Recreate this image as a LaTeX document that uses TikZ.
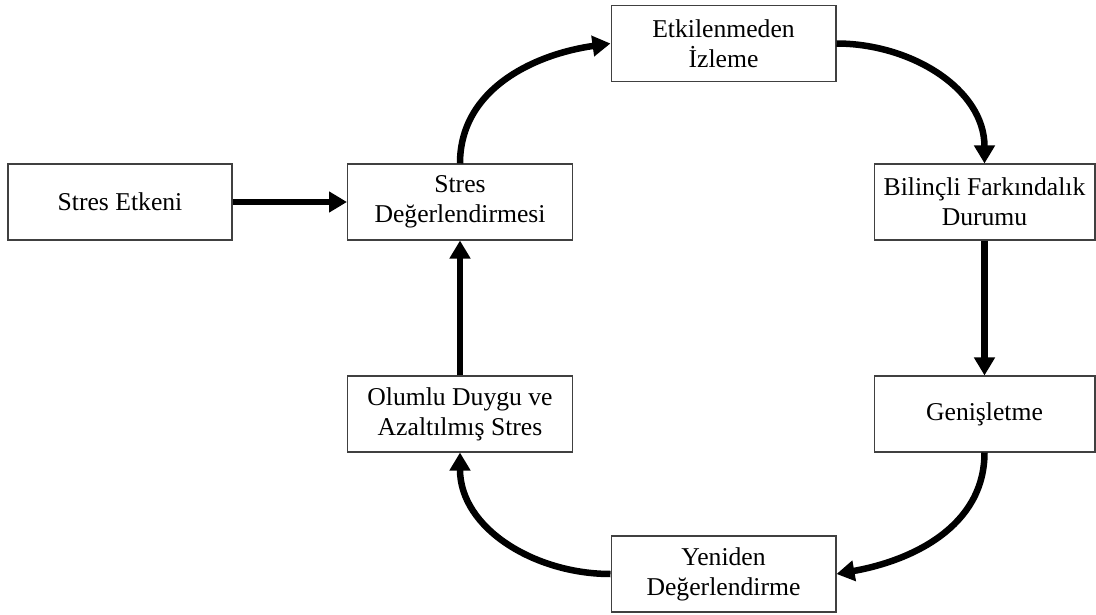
\documentclass[tikz,border=0pt]{standalone}
\usepackage{fontspec}
\setmainfont{Liberation Serif}
\usetikzlibrary{arrows.meta}
\begin{document}
\begin{tikzpicture}[x=0.02cm,y=-0.02cm,
  box/.style={draw=black!75, line width=0.6pt, minimum width=4.5cm, minimum height=1.52cm,
    align=center, inner sep=0pt, font=\fontsize{14.6}{17.2}\selectfont},
  conn/.style={line width=3.7pt, -{Triangle[length=0.36cm,width=0.4cm]}}]
\useasboundingbox (0,0) rectangle (1096,615);
\node[box, minimum width=4.48cm] (se) at (120,202) {Stres Etkeni};
\node[box] (sd) at (460,202) {Stres\\Değerlendirmesi};
\node[box] (ei) at (723.5,43.5) {Etkilenmeden\\İzleme};
\node[box, minimum width=4.42cm] (bf) at (984.5,202) {Bilinçli Farkındalık\\Durumu};
\node[box, minimum width=4.42cm] (ge) at (984.5,414) {Genişletme};
\node[box] (yd) at (723.5,574) {Yeniden\\Değerlendirme};
\node[box] (od) at (460,414) {Olumlu Duygu ve\\Azaltılmış Stres};
\draw[conn] (se.east) -- (sd.west);
\draw[conn] (sd.north) to[out=90,in=188] (ei.west);
\draw[conn] (ei.east) to[out=0,in=90] (bf.north);
\draw[conn] (bf.south) -- (ge.north);
\draw[conn] (ge.south) to[out=-90,in=10] (yd.east);
\draw[conn] (yd.west) to[out=180,in=-90] (od.south);
\draw[conn] (od.north) -- (sd.south);
\end{tikzpicture}
\end{document}
